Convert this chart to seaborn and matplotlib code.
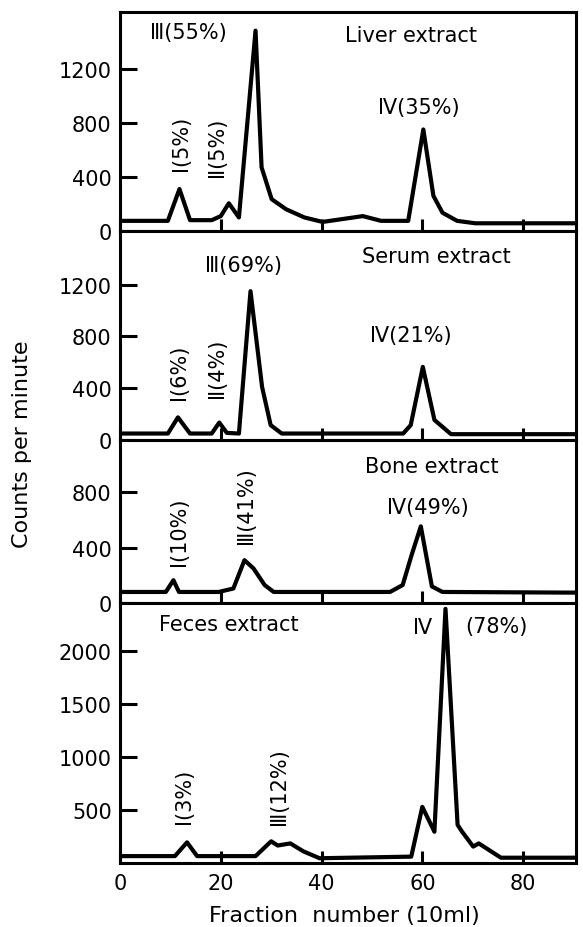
import matplotlib
matplotlib.use("Agg")
import matplotlib.pyplot as plt
import seaborn as sns
import pandas as pd

sns.set_style("ticks")
plt.rcParams['font.family'] = ['DejaVu Sans']
plt.rcParams['text.color'] = 'black'
plt.rcParams['axes.labelcolor'] = 'black'
plt.rcParams['xtick.color'] = 'black'
plt.rcParams['ytick.color'] = 'black'

# ---- data ----
liver_x = [0, 9.5, 11.8, 13.9, 18.2, 20.0, 21.6, 23.6, 26.9, 28.1, 30.1, 33.0, 36.6, 40.2, 48.2, 51.8, 57.2, 60.2, 62.2, 64.0, 66.9, 70.5, 90.5]
liver_y = [75, 75, 310, 80, 80, 110, 205, 100, 1480, 470, 235, 160, 100, 67, 110, 75, 75, 750, 260, 135, 75, 57, 57]

serum_x = [0, 9.5, 11.5, 13.9, 18.2, 19.7, 21.2, 23.6, 25.9, 28.2, 29.9, 32.1, 56.2, 57.7, 60.1, 62.4, 65.7, 90.5]
serum_y = [50, 50, 175, 50, 50, 135, 55, 50, 1150, 410, 115, 50, 50, 115, 565, 155, 45, 45]

bone_x = [0, 9.1, 10.6, 11.7, 19.6, 22.5, 24.7, 26.5, 28.7, 30.5, 53.6, 56.1, 57.9, 59.7, 61.9, 64.0, 90.5]
bone_y = [80, 80, 165, 80, 80, 105, 310, 250, 130, 80, 80, 130, 350, 555, 120, 80, 75]

feces_x = [0, 10.9, 13.3, 15.3, 26.9, 30.0, 31.3, 33.8, 36.4, 39.6, 57.8, 60.0, 62.4, 64.6, 67.0, 67.9, 70.1, 71.2, 75.6, 90.5]
feces_y = [65, 65, 195, 65, 65, 205, 165, 185, 110, 45, 60, 530, 295, 2400, 360, 295, 155, 185, 50, 50]

x_ticks = [0, 20, 40, 60, 80]
liver_yticks = [0, 400, 800, 1200]
serum_yticks = [0, 400, 800, 1200]
bone_yticks = [0, 400, 800]
feces_yticks = [500, 1000, 1500, 2000]

# ---- figure ----
W, H = 583, 928
fig = plt.figure(figsize=(W / 100, H / 100), dpi=100)

left = 120 / W
width = (576 - 120) / W

def box(top_px, bot_px):
    return [left, 1 - bot_px / H, width, (bot_px - top_px) / H]

axes = [
    fig.add_axes(box(12.7, 232)),
    fig.add_axes(box(232, 441)),
    fig.add_axes(box(441, 604)),
    fig.add_axes(box(604, 864)),
]

series = [(liver_x, liver_y), (serum_x, serum_y), (bone_x, bone_y), (feces_x, feces_y)]
ylims = [1620, 1615, 1180, 2455]
yticks = [liver_yticks, serum_yticks, bone_yticks, feces_yticks]

for i, ax in enumerate(axes):
    xs, ys = series[i]
    df = pd.DataFrame({"x": xs, "y": ys})
    sns.lineplot(data=df, x="x", y="y", ax=ax, color="black", linewidth=3.0,
                 sort=False, estimator=None)
    ax.set_xlim(0, 90.5)
    ax.set_ylim(0, ylims[i])
    ax.set_xticks(x_ticks)
    ax.set_yticks(yticks[i])
    ax.set_yticklabels([str(v) for v in yticks[i]])
    ax.set_xlabel("")
    ax.set_ylabel("")
    for sp in ax.spines.values():
        sp.set_visible(True)
        sp.set_linewidth(2.2)
        sp.set_color("black")
    ax.tick_params(axis="y", direction="in", length=12, width=2.2,
                   labelsize=15, pad=6)
    ax.tick_params(axis="x", direction="in", length=9, width=2.2,
                   labelsize=15, pad=7)
    if i < 3:
        ax.tick_params(axis="x", labelbottom=False)

fs = 15
a1, a2, a3, a4 = axes

# Liver
a1.text(13.5, 1470, "Ⅲ(55%)", ha="center", va="center", fontsize=fs)
a1.text(57.7, 1445, "Liver extract", ha="center", va="center", fontsize=fs)
a1.text(12.1, 655, "Ⅰ(5%)", ha="center", va="center", fontsize=fs, rotation=90)
a1.text(19.3, 624, "Ⅱ(5%)", ha="center", va="center", fontsize=fs, rotation=90)
a1.text(59.4, 914, "Ⅳ(35%)", ha="center", va="center", fontsize=fs)

# Serum
a2.text(24.6, 1353, "Ⅲ(69%)", ha="center", va="center", fontsize=fs)
a2.text(62.8, 1424, "Serum extract", ha="center", va="center", fontsize=fs)
a2.text(11.7, 527, "Ⅰ(6%)", ha="center", va="center", fontsize=fs, rotation=90)
a2.text(19.3, 562, "Ⅱ(4%)", ha="center", va="center", fontsize=fs, rotation=90)
a2.text(57.7, 814, "Ⅳ(21%)", ha="center", va="center", fontsize=fs)

# Bone
a3.text(61.9, 989, "Bone extract", ha="center", va="center", fontsize=fs)
a3.text(11.7, 522, "Ⅰ(10%)", ha="center", va="center", fontsize=fs, rotation=90)
a3.text(25.1, 712, "Ⅲ(41%)", ha="center", va="center", fontsize=fs, rotation=90)
a3.text(61.2, 694, "Ⅳ(49%)", ha="center", va="center", fontsize=fs)

# Feces
a4.text(21.6, 2257, "Feces extract", ha="center", va="center", fontsize=fs)
a4.text(60.0, 2225, "Ⅳ", ha="center", va="center", fontsize=fs)
a4.text(74.7, 2241, "(78%)", ha="center", va="center", fontsize=fs)
a4.text(12.7, 640, "Ⅰ(3%)", ha="center", va="center", fontsize=fs, rotation=90)
a4.text(31.6, 735, "Ⅲ(12%)", ha="center", va="center", fontsize=fs, rotation=90)

fig.text(22 / W, 1 - 444 / H, "Counts per minute", rotation=90,
         ha="center", va="center", fontsize=16)
fig.text(344 / W, 1 - 916 / H, "Fraction  number (10ml)",
         ha="center", va="center", fontsize=16)

fig.savefig("out.png", dpi=100)
